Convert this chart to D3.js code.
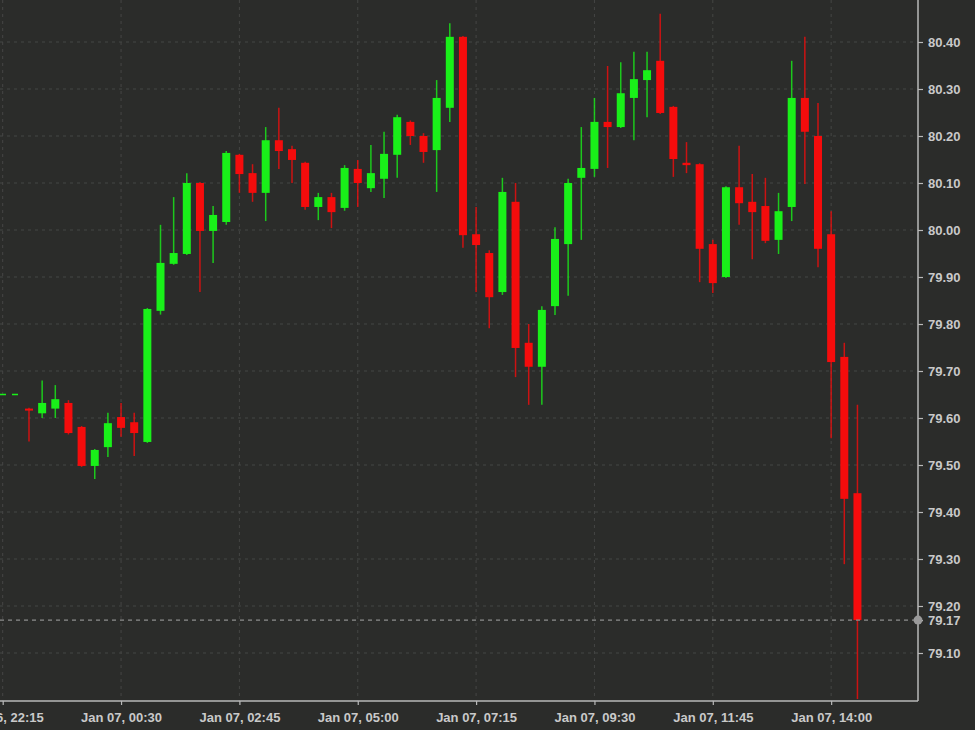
<!DOCTYPE html>
<html>
<head>
<meta charset="utf-8">
<script src="https://cdn.jsdelivr.net/npm/d3@7"></script>
<style>
  html, body { margin: 0; padding: 0; background: #2b2c2a; }
  svg { display: block; }
</style>
</head>
<body>
<svg id="chart" width="975" height="730"></svg>
<script>
// ---- data (15-minute candles, Jan 06 22:45 -> Jan 07 14:30) ----
const times = [
  "2025-01-06T22:45","2025-01-06T23:00","2025-01-06T23:15","2025-01-06T23:30","2025-01-06T23:45",
  "2025-01-07T00:00","2025-01-07T00:15","2025-01-07T00:30","2025-01-07T00:45","2025-01-07T01:00",
  "2025-01-07T01:15","2025-01-07T01:30","2025-01-07T01:45","2025-01-07T02:00","2025-01-07T02:15",
  "2025-01-07T02:30","2025-01-07T02:45","2025-01-07T03:00","2025-01-07T03:15","2025-01-07T03:30",
  "2025-01-07T03:45","2025-01-07T04:00","2025-01-07T04:15","2025-01-07T04:30","2025-01-07T04:45",
  "2025-01-07T05:00","2025-01-07T05:15","2025-01-07T05:30","2025-01-07T05:45","2025-01-07T06:00",
  "2025-01-07T06:15","2025-01-07T06:30","2025-01-07T06:45","2025-01-07T07:00","2025-01-07T07:15",
  "2025-01-07T07:30","2025-01-07T07:45","2025-01-07T08:00","2025-01-07T08:15","2025-01-07T08:30",
  "2025-01-07T08:45","2025-01-07T09:00","2025-01-07T09:15","2025-01-07T09:30","2025-01-07T09:45",
  "2025-01-07T10:00","2025-01-07T10:15","2025-01-07T10:30","2025-01-07T10:45","2025-01-07T11:00",
  "2025-01-07T11:15","2025-01-07T11:30","2025-01-07T11:45","2025-01-07T12:00","2025-01-07T12:15",
  "2025-01-07T12:30","2025-01-07T12:45","2025-01-07T13:00","2025-01-07T13:15","2025-01-07T13:30",
  "2025-01-07T13:45","2025-01-07T14:00","2025-01-07T14:15","2025-01-07T14:30"
];
const opens = [
  79.620,79.610,79.620,79.632,79.581,79.498,79.538,79.602,79.591,79.549,
  79.828,79.928,79.949,80.100,79.998,80.017,80.160,80.121,80.079,80.191,
  80.172,80.143,80.049,80.070,80.047,80.130,80.089,80.109,80.160,80.230,
  80.200,80.170,80.260,80.411,79.991,79.951,79.868,80.060,79.760,79.709,
  79.838,79.970,80.111,80.130,80.230,80.219,80.281,80.319,80.360,80.262,
  80.143,80.140,79.970,79.900,80.091,80.060,80.051,79.979,80.049,80.281,
  80.200,79.991,79.730,79.440
];
const highs = [
  79.622,79.680,79.670,79.638,79.583,79.534,79.611,79.632,79.611,79.834,
  80.011,80.070,80.121,80.102,80.051,80.168,80.162,80.140,80.219,80.260,
  80.179,80.145,80.079,80.079,80.138,80.149,80.181,80.209,80.245,80.233,
  80.206,80.319,80.440,80.413,80.049,79.957,80.111,80.100,79.800,79.838,
  80.006,80.109,80.219,80.281,80.349,80.357,80.379,80.379,80.460,80.264,
  80.187,80.142,79.979,80.093,80.179,80.119,80.111,80.079,80.360,80.411,
  80.270,80.040,79.760,79.628
];
const lows = [
  79.550,79.600,79.600,79.565,79.496,79.470,79.517,79.560,79.519,79.547,
  79.820,79.926,79.947,79.868,79.930,80.011,80.079,80.060,80.019,80.130,
  80.100,80.043,80.021,80.004,80.041,80.049,80.081,80.068,80.111,80.181,
  80.143,80.081,80.230,79.962,79.868,79.791,79.862,79.687,79.628,79.628,
  79.819,79.860,79.979,80.113,80.132,80.217,80.191,80.240,80.247,80.113,
  80.121,79.889,79.866,79.898,80.011,79.938,79.972,79.949,80.019,80.098,
  79.921,79.557,79.289,79.002
];
const closes = [
  79.617,79.632,79.640,79.568,79.498,79.532,79.589,79.579,79.568,79.832,
  79.930,79.951,80.100,79.998,80.032,80.164,80.119,80.079,80.191,80.168,
  80.149,80.049,80.070,80.038,80.132,80.100,80.121,80.162,80.240,80.200,
  80.166,80.281,80.411,79.989,79.968,79.857,80.081,79.749,79.709,79.830,
  79.981,80.100,80.132,80.230,80.219,80.291,80.321,80.340,80.249,80.151,
  80.138,79.960,79.887,80.091,80.057,80.038,79.977,80.040,80.281,80.209,
  79.960,79.719,79.428,79.170
];
const priceTicks = [80.40,80.30,80.20,80.10,80.00,79.90,79.80,79.70,79.60,79.50,79.40,79.30,79.20,79.10];
const lastPrice = 79.17;
const prevClose = 79.65;
const timeTicks = ["2025-01-06T22:15","2025-01-07T00:30","2025-01-07T02:45","2025-01-07T05:00",
                   "2025-01-07T07:15","2025-01-07T09:30","2025-01-07T11:45","2025-01-07T14:00"];

// ---- layout ----
const W = 975, H = 730;
const plotRight = 918, plotBottom = 701;
const bg = "#2b2c2a", gridColor = "#454644", axisColor = "#b9b9b9", textColor = "#c9c9c9";
const up = "#19f019", down = "#f50c0c";

const parse = d3.timeParse("%Y-%m-%dT%H:%M");
const candles = times.map((t, i) => ({
  t: parse(t), o: opens[i], h: highs[i], l: lows[i], c: closes[i]
}));
const tickDates = timeTicks.map(parse);

// x scale: first tick at x=2.7, 13.15 px per 15 minutes
const pxPerStep = 13.15, stepMs = 15 * 60 * 1000;
const t0 = tickDates[0].getTime();
const x = d3.scaleTime()
  .domain([new Date(t0 - 2.7 / pxPerStep * stepMs), new Date(t0 + (plotRight - 2.7) / pxPerStep * stepMs)])
  .range([0, plotRight]);
const y = d3.scaleLinear().domain([79.10, 80.40]).range([653, 42]);

const svg = d3.select("#chart");
svg.append("rect").attr("width", W).attr("height", H).attr("fill", bg);

const fmtTime = d3.timeFormat("%b %d, %H:%M");

// grid
const grid = svg.append("g");
grid.selectAll("line.h").data(priceTicks).join("line")
  .attr("x1", 0).attr("x2", plotRight)
  .attr("y1", d => y(d)).attr("y2", d => y(d))
  .attr("stroke", gridColor).attr("stroke-width", 1).attr("stroke-dasharray", "3,4");
grid.selectAll("line.v").data(tickDates).join("line")
  .attr("x1", d => x(d)).attr("x2", d => x(d))
  .attr("y1", 0).attr("y2", plotBottom)
  .attr("stroke", gridColor).attr("stroke-width", 1).attr("stroke-dasharray", "3,4");

// previous close dashes
svg.append("line")
  .attr("x1", 0).attr("x2", 20).attr("y1", y(prevClose)).attr("y2", y(prevClose))
  .attr("stroke", up).attr("stroke-width", 1.5).attr("stroke-dasharray", "6,6");

// candles
const bodyW = 8;
const cg = svg.append("g").selectAll("g").data(candles).join("g");
cg.append("line")
  .attr("x1", d => x(d.t)).attr("x2", d => x(d.t))
  .attr("y1", d => y(d.h)).attr("y2", d => y(d.l))
  .attr("stroke", d => d.c >= d.o ? up : down).attr("stroke-width", 1.5).attr("stroke-opacity", 0.8);
cg.append("rect")
  .attr("x", d => x(d.t) - bodyW / 2)
  .attr("width", bodyW)
  .attr("y", d => y(Math.max(d.o, d.c)))
  .attr("height", d => Math.max(2, Math.abs(y(d.o) - y(d.c))))
  .attr("fill", d => d.c >= d.o ? up : down);

// last price line
svg.append("line")
  .attr("x1", 0).attr("x2", plotRight).attr("y1", y(lastPrice)).attr("y2", y(lastPrice))
  .attr("stroke", "#8d8d8d").attr("stroke-width", 1.2).attr("stroke-dasharray", "4,4");

// axes
const yAxis = d3.axisRight(y).tickValues(priceTicks).tickSize(5).tickPadding(5)
  .tickFormat(d3.format(".2f"));
const yg = svg.append("g").attr("transform", `translate(${plotRight},0)`).call(yAxis);
yg.select(".domain").remove();
yg.selectAll(".tick line").attr("stroke", axisColor).attr("stroke-width", 1.2);
yg.selectAll(".tick text").attr("fill", textColor)
  .style("font", "bold 13px 'Liberation Sans', Arial, sans-serif");

const lastAxis = d3.axisRight(y).tickValues([lastPrice]).tickSize(5).tickPadding(5)
  .tickFormat(d3.format(".2f"));
const lg = svg.append("g").attr("transform", `translate(${plotRight},0)`).call(lastAxis);
lg.select(".domain").remove();
lg.selectAll(".tick line").attr("stroke", axisColor).attr("stroke-width", 1.2);
lg.selectAll(".tick text").attr("fill", textColor)
  .style("font", "bold 13px 'Liberation Sans', Arial, sans-serif");

const xAxis = d3.axisBottom(x).tickValues(tickDates).tickSize(4).tickPadding(8).tickFormat(fmtTime);
const xg = svg.append("g").attr("transform", `translate(0,${plotBottom})`).call(xAxis);
xg.select(".domain").remove();
xg.selectAll(".tick line").attr("stroke", axisColor).attr("stroke-width", 1.2);
xg.selectAll(".tick text").attr("fill", textColor)
  .style("font", "bold 13px 'Liberation Sans', Arial, sans-serif");

// axis lines
svg.append("line").attr("x1", plotRight).attr("x2", plotRight).attr("y1", 0).attr("y2", plotBottom)
  .attr("stroke", axisColor).attr("stroke-width", 1.5);
svg.append("line").attr("x1", 0).attr("x2", plotRight).attr("y1", plotBottom).attr("y2", plotBottom)
  .attr("stroke", axisColor).attr("stroke-width", 1.5);

// last price marker
svg.append("circle").attr("cx", plotRight).attr("cy", y(lastPrice)).attr("r", 4.5).attr("fill", "#9a9a9a");
</script>
</body>
</html>
